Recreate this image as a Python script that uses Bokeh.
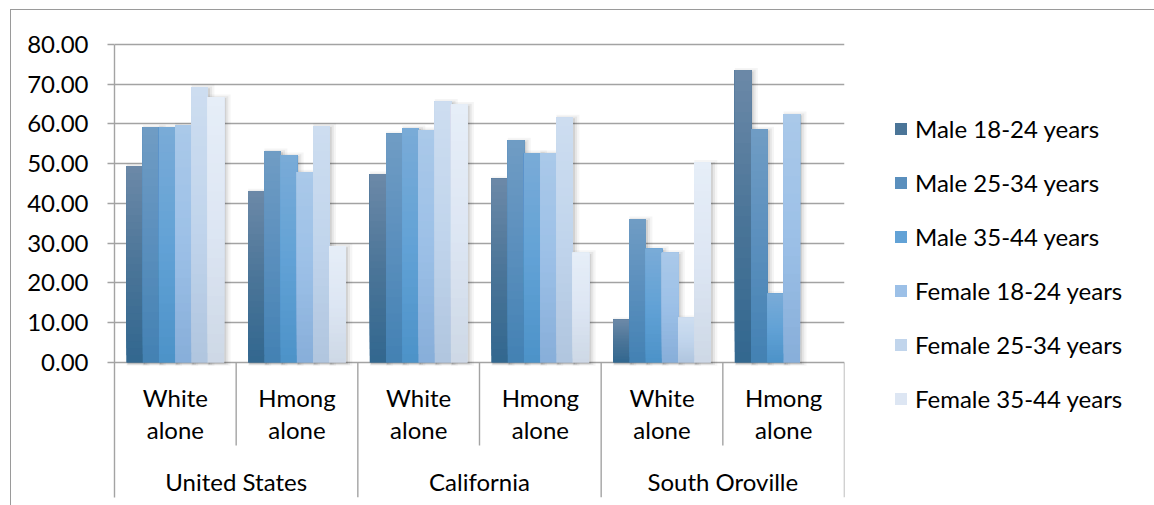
from bokeh.plotting import figure
from bokeh.models import (FactorRange, Range1d, ColumnDataSource, Legend, LegendItem,
                          FixedTicker, NumeralTickFormatter)
from bokeh.transform import dodge
from bokeh.core.properties import value
from bokeh.embed import file_html
from bokeh.resources import INLINE

# ---------------- data ----------------
regions = ["United States", "California", "South Oroville"]
races = ["White alone", "Hmong alone"]
race_line1 = ["White", "Hmong"]
race_line2 = ["alone", "alone"]
series = ["Male 18-24 years", "Male 25-34 years", "Male 35-44 years",
          "Female 18-24 years", "Female 25-34 years", "Female 35-44 years"]
# order: US White, US Hmong, CA White, CA Hmong, SO White, SO Hmong
male_18_24 = [49.4, 43.1, 47.4, 46.2, 10.7, 73.5]
male_25_34 = [59.2, 53.2, 57.5, 55.9, 36.1, 58.7]
male_35_44 = [59.2, 52.2, 59.0, 52.7, 28.6, 17.3]
female_18_24 = [59.7, 47.9, 58.5, 52.7, 27.6, 62.5]
female_25_34 = [69.3, 59.5, 65.7, 61.7, 11.2, None]
female_35_44 = [66.8, 29.3, 64.9, 27.6, 50.3, None]
y_ticks = [0, 10, 20, 30, 40, 50, 60, 70, 80]
series_values = [male_18_24, male_25_34, male_35_44, female_18_24, female_25_34, female_35_44]

# ---------------- styles ----------------
FONT = "Lato"
FS = "24px"
GRID = "#a3a3a3"
# gradient stops (bottom, middle, top) per series
GRAD = [
    ("#32678f", "#4b7598", "#6c89a8"),
    ("#4381b3", "#5a8fbd", "#709cc4"),
    ("#4c92c8", "#62a2d6", "#7aabd7"),
    ("#87aed9", "#9cc0e7", "#aac9e9"),
    ("#b0c5df", "#c1d5ec", "#cdddf0"),
    ("#cdd8e6", "#dde6f3", "#e6eef8"),
]
N_LAYERS = 28
GAP = 1.5


def hex2rgb(h):
    h = h.lstrip("#")
    return [int(h[i:i + 2], 16) for i in (0, 2, 4)]


def mix(c1, c2, t):
    a, b = hex2rgb(c1), hex2rgb(c2)
    return "#%02x%02x%02x" % tuple(int(round(a[i] + (b[i] - a[i]) * t)) for i in range(3))


def grad_color(stops, t):
    if t <= 0.5:
        return mix(stops[0], stops[1], t / 0.5)
    return mix(stops[1], stops[2], (t - 0.5) / 0.5)


cats = [(r, c) for r in regions for c in races]
factors = [(r, c, s) for r in regions for c in races for s in series]

x_range = FactorRange(*factors, factor_padding=0.0, subgroup_padding=GAP, group_padding=GAP,
                      range_padding=GAP / 2, range_padding_units="absolute")

p = figure(x_range=x_range, y_range=Range1d(-34, 82), frame_width=730, frame_height=461,
           output_backend="svg", toolbar_location=None, x_axis_location=None,
           min_border_left=103, min_border_right=310, min_border_top=26, min_border_bottom=8)
p.styles = {"margin-left": "10px", "margin-top": "9px",
            "border-left": "1px solid #9a9a9a", "border-top": "1px solid #9a9a9a"}
p.outline_line_color = None
p.background_fill_color = "white"
p.border_fill_color = "white"

# grid
p.xgrid.visible = False
p.ygrid.ticker = FixedTicker(ticks=y_ticks)
p.ygrid.grid_line_color = GRID
p.ygrid.grid_line_width = 1.6

# y axis
ax = p.yaxis[0]
ax.ticker = FixedTicker(ticks=y_ticks)
ax.bounds = (-34, 80)
ax.formatter = NumeralTickFormatter(format="0.00")
ax.axis_line_color = GRID
ax.axis_line_width = 1.4
ax.major_tick_line_color = GRID
ax.major_tick_line_width = 1.4
ax.major_tick_out = 7
ax.major_tick_in = 0
ax.minor_tick_line_color = None
ax.major_label_standoff = 19
ax.major_label_text_font = FONT
ax.major_label_text_font_size = FS
ax.major_label_text_color = "black"

# shadows
shadow_layers = [(0.10, -0.3, 0.08, 0.09), (0.15, 0.15, 0.24, 0.06), (0.20, 0.6, 0.42, 0.04)]
for dx, dtop, dw, alpha in shadow_layers:
    xs, tops = [], []
    for si, s in enumerate(series):
        for ci, (r, c) in enumerate(cats):
            v = series_values[si][ci]
            if v is None:
                continue
            xs.append((r, c, s))
            tops.append(v + dtop)
    src = ColumnDataSource(dict(x=xs, top=tops))
    p.vbar(x=dodge("x", dx, range=p.x_range), top="top", bottom=-0.4 - dw, width=1.0 + dw,
           source=src, fill_color="black", fill_alpha=alpha, line_color=None)

# base bars per series (also used by the legend), later overdrawn by the gradient
items = []
for si, s in enumerate(series):
    xs, tops = [], []
    for ci, (r, c) in enumerate(cats):
        v = series_values[si][ci]
        if v is None:
            continue
        xs.append((r, c, s))
        tops.append(v)
    rb = p.vbar(x="x", top="top", width=1.02, source=ColumnDataSource(dict(x=xs, top=tops)),
                fill_color=GRAD[si][1], line_color=None)
    items.append(LegendItem(label=s, renderers=[rb]))

# gradient layers (from bottom up, each running to the bar top)
bx, bb, bt, bc = [], [], [], []
for si, s in enumerate(series):
    for ci, (r, c) in enumerate(cats):
        v = series_values[si][ci]
        if v is None:
            continue
        for k in range(N_LAYERS):
            bx.append((r, c, s))
            bb.append(v * k / N_LAYERS)
            bt.append(v)
            bc.append(grad_color(GRAD[si], (k + 0.5) / N_LAYERS))
bar_src = ColumnDataSource(dict(x=bx, bottom=bb, top=bt, color=bc))
p.vbar(x="x", bottom="bottom", top="top", width=1.02, source=bar_src,
       fill_color="color", line_color=None)

legend = Legend(items=items, location=(49, 84), glyph_width=15, glyph_height=15,
                label_standoff=7, spacing=25, padding=0, margin=0,
                border_line_color=None, background_fill_alpha=0,
                label_text_font=FONT, label_text_font_size=FS, label_text_color="black")
p.add_layout(legend, "right")

# category separators
half = len(series) / 2 + GAP / 2
inner_src = ColumnDataSource(dict(x=[(r, races[0]) for r in regions]))
p.segment(x0=dodge("x", half, range=p.x_range), x1=dodge("x", half, range=p.x_range),
          y0=0, y1=-20.9, source=inner_src, line_color=GRID, line_width=1.4)
outer_src = ColumnDataSource(dict(x=[(r, races[-1]) for r in regions]))
p.segment(x0=dodge("x", half, range=p.x_range), x1=dodge("x", half, range=p.x_range),
          y0=0, y1=-34, source=outer_src, line_color=GRID, line_width=1.4)

# category labels
lab_src = ColumnDataSource(dict(x=cats, l1=[race_line1[races.index(c)] for r, c in cats],
                                l2=[race_line2[races.index(c)] for r, c in cats]))
p.text(x="x", y=-8.8, text="l1", source=lab_src, text_align="center", text_baseline="middle",
       text_font=value(FONT), text_font_size=value(FS), text_color="black")
p.text(x="x", y=-16.9, text="l2", source=lab_src, text_align="center", text_baseline="middle",
       text_font=value(FONT), text_font_size=value(FS), text_color="black")
grp_src = ColumnDataSource(dict(x=regions))
p.text(x="x", y=-29.9, text="x", source=grp_src, text_align="center", text_baseline="middle",
       text_font=value(FONT), text_font_size=value(FS), text_color="black")

open("out.html", "w").write(file_html(p, INLINE))
